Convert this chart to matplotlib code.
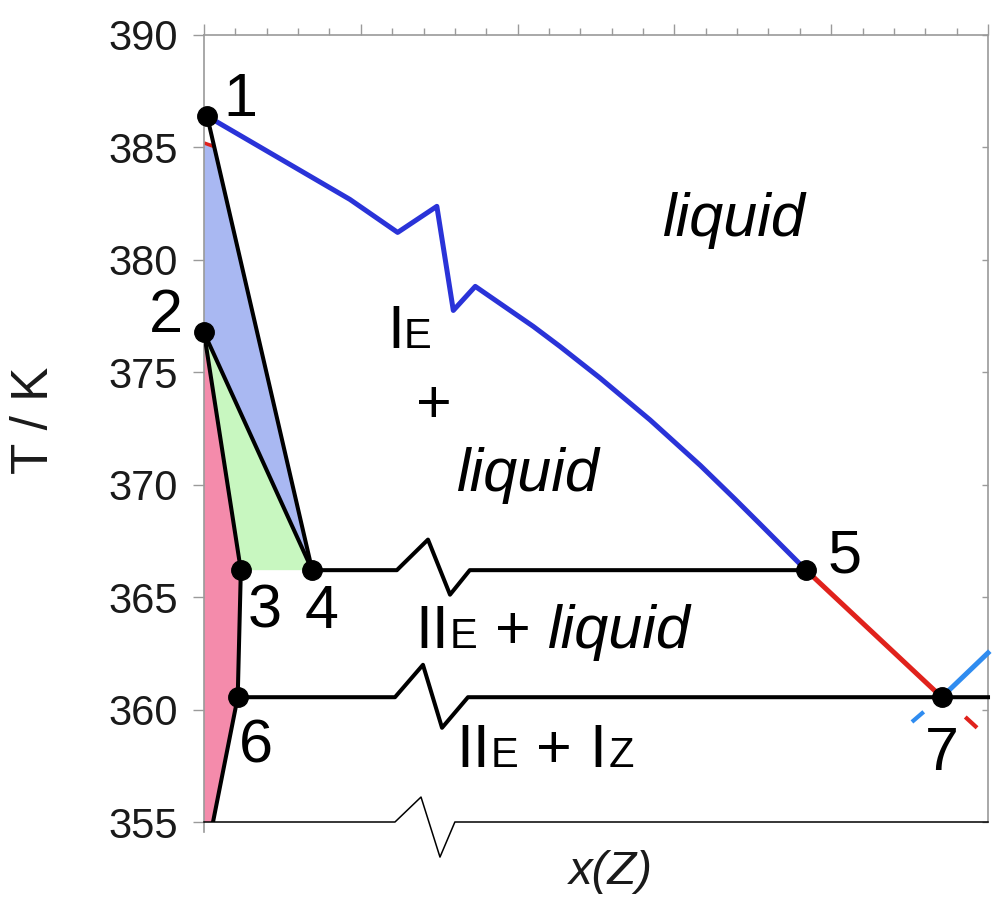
import numpy as np
import matplotlib
matplotlib.use("Agg")
import matplotlib.pyplot as plt
from matplotlib.transforms import ScaledTranslation

plt.rcParams['font.family'] = ['Liberation Sans', 'DejaVu Sans']

# ---- invariant points 1..7 (composition fraction, temperature / K) ----
point_labels = ['1', '2', '3', '4', '5', '6', '7']
point_x = [0.004, 0.0, 0.047, 0.138, 0.768, 0.043, 0.941]
point_T = [386.39, 376.77, 366.2, 366.2, 366.2, 360.55, 360.55]

# ---- liquidus of I_E (blue), including the axis-break zigzag ----
liq_x = [0.004, 0.186, 0.247, 0.297, 0.318, 0.346, 0.420, 0.454,
         0.505, 0.569, 0.633, 0.677, 0.709, 0.768]
liq_T = [386.39, 382.69, 381.22, 382.38, 377.75, 378.82, 377.04, 376.15,
         374.75, 372.88, 370.86, 369.37, 368.26, 366.2]

# ---- liquidus of I_Z beyond the eutectic (light blue) ----
liqZ_x = [0.941, 1.0]
liqZ_T = [360.55, 362.52]

# metastable continuation stubs
stubZ_x = [0.903, 0.918]
stubZ_T = [359.45, 359.90]
stubE_x = [0.971, 0.986]
stubE_T = [359.67, 359.19]
stubTop_x = [0.0, 0.012]
stubTop_T = [385.2, 385.05]

# ---- horizontal invariant lines with break marks ----
inv1_x = [0.138, 0.246, 0.2857, 0.3138, 0.339, 0.768]
inv1_T = [366.2, 366.2, 367.56, 365.11, 366.2, 366.2]
inv2_x = [0.043, 0.2436, 0.2793, 0.3036, 0.3367, 1.0]
inv2_T = [360.55, 360.55, 361.99, 359.19, 360.55, 360.55]
base_x = [0.0, 0.2436, 0.2768, 0.301, 0.320, 1.0]
base_T = [355.0, 355.0, 356.11, 353.44, 355.0, 355.0]

# solidus foot below point 6
foot_x = 0.0115
foot_T = 355.0

# label anchors
num_x = [0.0459, -0.0485, 0.0778, 0.1505, 0.8176, 0.0663, 0.9413]
num_T = [386.39, 376.77, 363.64, 363.64, 366.09, 357.63, 357.32]

yticks = [355, 360, 365, 370, 375, 380, 385, 390]

BLUE = '#2a33d8'
RED = '#e0221c'
LBLUE = '#2f8cf0'
FILL_B = '#a9b8f2'
FILL_G = '#c8f7c0'
FILL_P = '#f48bab'
GREY = '#9a9a9a'

fig = plt.figure(figsize=(9.92, 8.97), dpi=100)
ax = fig.add_axes([204 / 992, 1 - 822 / 897, 784 / 992, 787 / 897])
ax.set_xlim(0, 1)
ax.set_ylim(355, 390)

P = {lab: (x, t) for lab, x, t in zip(point_labels, point_x, point_T)}

# ---- shaded single/two-phase solid fields ----
top_T = stubTop_T[0]
x_on_14 = np.interp(top_T, [P['4'][1], P['1'][1]], [P['4'][0], P['1'][0]])
ax.fill([0.0, x_on_14, P['4'][0], P['2'][0]],
        [top_T, top_T, P['4'][1], P['2'][1]],
        color=FILL_B, lw=0, zorder=1)
ax.fill([P['2'][0], P['3'][0], P['4'][0]],
        [P['2'][1], P['3'][1], P['4'][1]],
        color=FILL_G, lw=0, zorder=1)
ax.fill([P['2'][0], 0.0, foot_x, P['6'][0], P['3'][0]],
        [P['2'][1], 355.0, foot_T, P['6'][1], P['3'][1]],
        color=FILL_P, lw=0, zorder=1)

# ---- boundary lines ----
lw_k = 2.9
ax.plot(stubTop_x, stubTop_T, color=RED, lw=2.5, zorder=2, solid_capstyle='butt')
ax.plot([P['1'][0], P['4'][0]], [P['1'][1], P['4'][1]], color='k', lw=lw_k, zorder=3)
ax.plot([P['2'][0], P['4'][0]], [P['2'][1], P['4'][1]], color='k', lw=lw_k, zorder=3)
ax.plot([P['2'][0], P['3'][0]], [P['2'][1], P['3'][1]], color='k', lw=lw_k, zorder=3)
ax.plot([P['3'][0], P['6'][0], foot_x], [P['3'][1], P['6'][1], foot_T],
        color='k', lw=lw_k, zorder=3)
ax.plot(inv1_x, inv1_T, color='k', lw=lw_k, zorder=3)
ax.plot(inv2_x, inv2_T, color='k', lw=lw_k, zorder=3, clip_on=False)
ax.plot(base_x, base_T, color='k', lw=1.1, zorder=3, clip_on=False)

ax.plot(liq_x, liq_T, color=BLUE, lw=3.6, zorder=4, solid_joinstyle='round')
ax.plot([P['5'][0], P['7'][0]], [P['5'][1], P['7'][1]], color=RED, lw=3.6, zorder=4)
ax.plot(liqZ_x, liqZ_T, color=LBLUE, lw=3.6, zorder=4, clip_on=False)
ax.plot(stubZ_x, stubZ_T, color=LBLUE, lw=3.0, zorder=4, solid_capstyle='butt')
ax.plot(stubE_x, stubE_T, color=RED, lw=3.0, zorder=4, solid_capstyle='butt')

ax.plot(point_x, point_T, 'o', color='k', ms=14, zorder=6, clip_on=False)

# ---- point numbers ----
for lab, x, t in zip(point_labels, num_x, num_T):
    ax.text(x, t, lab, fontsize=44, ha='center', va='baseline', color='k',
            zorder=7, clip_on=False)


def rich_text(x, y, pieces, ha='left'):
    """Draw text pieces of mixed size/style on a common baseline."""
    renderer = fig.canvas.get_renderer()
    items = []
    for p in pieces:
        if isinstance(p, (int, float)):
            items.append((None, float(p)))
            continue
        s, size, style = p
        t = ax.text(x, y, s, fontsize=size, fontstyle=style, ha='left',
                    va='baseline', color='k', zorder=7)
        w = t.get_window_extent(renderer).width
        items.append((t, w))
    total = sum(w for _, w in items)
    off = -total / 2 if ha == 'center' else 0.0
    for t, w in items:
        if t is not None:
            t.set_transform(ax.transData +
                            ScaledTranslation(off / fig.dpi, 0, fig.dpi_scale_trans))
        off += w


# ---- phase-field labels ----
rich_text(0.2334, 376.10, [('I', 44, 'normal'), 0, ('E', 30, 'normal')])
ax.text(0.2934, 372.81, '+', fontsize=44, ha='center', va='baseline', color='k')
ax.text(0.412, 369.74, 'liquid', fontsize=44, fontstyle='italic', ha='center',
        va='baseline', color='k')
ax.text(0.6747, 381.05, 'liquid', fontsize=44, fontstyle='italic', ha='center',
        va='baseline', color='k')
rich_text(0.2700, 362.75, [('II', 44, 'normal'), 0, ('E', 30, 'normal'), 18,
                           ('+', 44, 'normal'), 16, ('liquid', 44, 'italic')])
rich_text(0.322, 357.45, [('II', 44, 'normal'), 0, ('E', 30, 'normal'), 18,
                          ('+', 44, 'normal'), 18, ('I', 44, 'normal'), 2,
                          ('Z', 30, 'normal')])

# ---- axes styling ----
for side in ('left', 'top', 'right'):
    ax.spines[side].set_color(GREY)
    ax.spines[side].set_linewidth(1.2)
ax.spines['bottom'].set_visible(False)
ax.spines['left'].set_bounds(354.55, 390)

ax.xaxis.set_ticks_position('top')
ax.set_xticks(np.arange(0, 1.0001, 0.2))
ax.set_xticks(np.arange(0, 1.0001, 0.04), minor=True)
ax.tick_params(axis='x', which='major', direction='out', length=8, width=1,
               color=GREY, labeltop=False, labelbottom=False)
ax.tick_params(axis='x', which='minor', direction='out', length=5, width=1,
               color=GREY)

ax.set_yticks(yticks)
ax.set_yticklabels([str(v) for v in yticks])
ax.tick_params(axis='y', which='both', left=True, right=True, direction='out',
               length=8, width=1, color=GREY, labelsize=30, pad=11,
               labelcolor='#1a1a1a')
# inward ticks on the right side
for tick in ax.yaxis.get_major_ticks():
    tick.tick2line.set_marker(matplotlib.lines.TICKLEFT)
    tick.tick2line.set_markersize(4)

fig.text(34 / 992, 1 - 420 / 897, 'T / K', rotation=90, fontsize=37,
         ha='center', va='center', color='#1a1a1a')
fig.text(611 / 992, 1 - 872 / 897, 'x(Z)', fontsize=34, fontstyle='italic',
         ha='center', va='center', color='#1a1a1a')

fig.savefig('out.png', dpi=100)
